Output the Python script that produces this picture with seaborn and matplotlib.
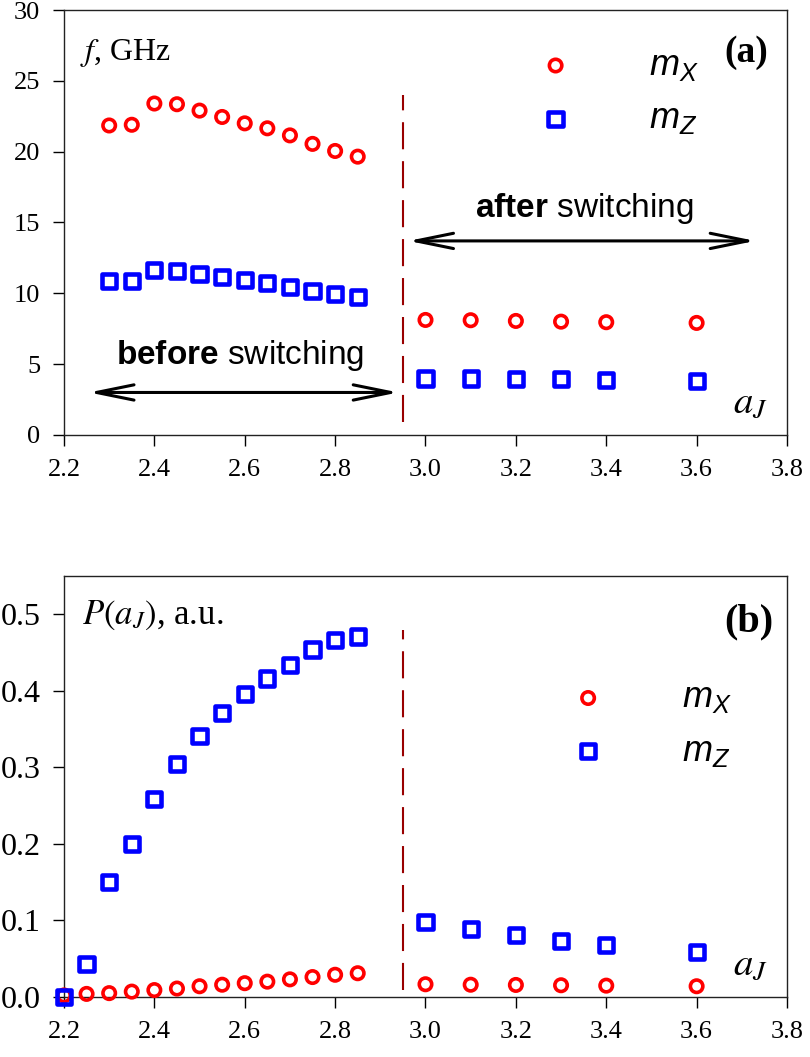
import numpy as np
import pandas as pd
import matplotlib
matplotlib.use('Agg')
import matplotlib.pyplot as plt
import seaborn as sns

sns.set_theme(style='ticks')
plt.rcParams['font.family'] = ['Liberation Serif', 'DejaVu Serif']
plt.rcParams['text.color'] = 'black'
plt.rcParams['xtick.color'] = 'black'
plt.rcParams['ytick.color'] = 'black'
plt.rcParams['mathtext.fontset'] = 'custom'
plt.rcParams['mathtext.rm'] = 'Liberation Sans'
plt.rcParams['mathtext.it'] = 'Liberation Sans:italic'
plt.rcParams['mathtext.bf'] = 'Liberation Sans:bold'

# --- data ---
# (a) frequencies, GHz
aj_f_before = [2.30, 2.35, 2.40, 2.45, 2.50, 2.55, 2.60, 2.65, 2.70, 2.75, 2.80, 2.85]
fx_before = [21.85, 21.9, 23.4, 23.35, 22.9, 22.45, 22.0, 21.65, 21.15, 20.55, 20.05, 19.65]
fz_before = [10.88, 10.88, 11.65, 11.58, 11.35, 11.14, 10.95, 10.73, 10.47, 10.17, 9.93, 9.75]
aj_after = [3.0, 3.1, 3.2, 3.3, 3.4, 3.6]
fx_after = [8.12, 8.10, 8.05, 8.00, 7.96, 7.91]
fz_after = [3.98, 3.98, 3.95, 3.93, 3.90, 3.83]

# (b) power, a.u.
aj_p_before = [2.20, 2.25, 2.30, 2.35, 2.40, 2.45, 2.50, 2.55, 2.60, 2.65, 2.70, 2.75, 2.80, 2.85]
px_before = [0.002, 0.004, 0.005, 0.007, 0.009, 0.011, 0.014, 0.016, 0.018, 0.020, 0.023, 0.026, 0.029, 0.031]
pz_before = [0.0, 0.043, 0.150, 0.200, 0.259, 0.304, 0.341, 0.371, 0.396, 0.416, 0.434, 0.454, 0.466, 0.471]
px_after = [0.0166, 0.0160, 0.0157, 0.0153, 0.0148, 0.0140]
pz_after = [0.098, 0.089, 0.081, 0.0735, 0.068, 0.059]

switch_aj = 2.95
x_ticks = [2.2, 2.4, 2.6, 2.8, 3.0, 3.2, 3.4, 3.6, 3.8]

df_f = pd.DataFrame({
    'aj': aj_f_before + aj_after + aj_f_before + aj_after,
    'val': fx_before + fx_after + fz_before + fz_after,
    'mode': ['mX'] * 18 + ['mZ'] * 18,
})
df_p = pd.DataFrame({
    'aj': aj_p_before + aj_after + aj_p_before + aj_after,
    'val': px_before + px_after + pz_before + pz_after,
    'mode': ['mX'] * 20 + ['mZ'] * 20,
})

styles = {
    'mX': dict(marker='o', s=80, edgecolor='#ff0000', linewidth=2.6, label=r'$m_X$'),
    'mZ': dict(marker='s', s=105, edgecolor='#0000ff', linewidth=3.3, label=r'$m_Z$'),
}

fig = plt.figure(figsize=(8.1, 10.57), dpi=100)
ax1 = fig.add_axes([0.079, 0.5885, 0.8926, 0.402])
ax2 = fig.add_axes([0.079, 0.0568, 0.8926, 0.3983])


def draw_panel(ax, df, ylim, yticks, yfmt, ytick_size, vline, leg_anchor):
    for mode in ['mX', 'mZ']:
        sub = df[df['mode'] == mode]
        sns.scatterplot(data=sub, x='aj', y='val', facecolors='none',
                        clip_on=False, zorder=3, ax=ax, **styles[mode])
    ax.set(xlabel='', ylabel='')
    ax.set_xlim(2.2, 3.8)
    ax.set_ylim(*ylim)
    ax.set_xticks(x_ticks)
    ax.set_xticklabels([f'{t:.1f}' for t in x_ticks])
    ax.set_yticks(yticks)
    ax.set_yticklabels([yfmt.format(t) for t in yticks])
    ax.tick_params(axis='x', labelsize=19, length=8, width=1, pad=9, color='black')
    ax.tick_params(axis='y', labelsize=ytick_size, length=8, width=1, pad=9, color='black')
    for sp in ax.spines.values():
        sp.set_visible(True)
        sp.set_linewidth(1.0)
        sp.set_color('#222222')
    ax.vlines(switch_aj, vline[0], vline[1], colors='#990000', linewidth=1.5,
              linestyles=(0, (13, 5.7)), zorder=2)
    leg = ax.legend(loc='center left', bbox_to_anchor=leg_anchor, frameon=False,
                    fontsize=26, handletextpad=1.6, labelspacing=0.55,
                    borderpad=0, borderaxespad=0, scatterpoints=1)
    for t in leg.get_texts():
        t.set_math_fontfamily('custom')


draw_panel(ax1, df_f, (0, 30), [0, 5, 10, 15, 20, 25, 30], '{:d}', 19,
           (0.9, 24.0), (0.63, 0.805))
draw_panel(ax2, df_p, (0, 0.55), [0.0, 0.1, 0.2, 0.3, 0.4, 0.5], '{:.1f}', 23,
           (0.009, 0.48), (0.675, 0.645))

# panel annotations
ax1.text(0.022, 0.90, r'$f$, GHz', transform=ax1.transAxes, fontsize=23,
         ha='left', va='center', math_fontfamily='stix')
ax1.text(0.974, 0.90, '(a)', transform=ax1.transAxes, fontsize=27,
         fontweight='bold', ha='right', va='center')
ax1.text(0.973, 0.075, r'$a_J$', transform=ax1.transAxes, fontsize=28,
         ha='right', va='center', math_fontfamily='stix')

ax2.text(0.025, 0.907, r'$P(a_J)$, a.u.', transform=ax2.transAxes, fontsize=25,
         ha='left', va='center', math_fontfamily='stix')
ax2.text(0.981, 0.891, '(b)', transform=ax2.transAxes, fontsize=29,
         fontweight='bold', ha='right', va='center')
ax2.text(0.973, 0.075, r'$a_J$', transform=ax2.transAxes, fontsize=28,
         ha='right', va='center', math_fontfamily='stix')

# before / after switching arrows
arrow_kw = dict(arrowstyle='<->,head_length=2.7,head_width=0.55', lw=2.2,
                color='black', shrinkA=0, shrinkB=0, mutation_scale=10)
ax1.annotate('', xy=(2.255, 3.0), xytext=(2.94, 3.0), arrowprops=arrow_kw)
ax1.annotate('', xy=(2.962, 13.7), xytext=(3.73, 13.7), arrowprops=arrow_kw)
ax1.text(2.59, 5.6, r'$\mathbf{before}$ switching', fontsize=24, ha='center',
         va='center', family='Liberation Sans', math_fontfamily='custom')
ax1.text(3.352, 16.0, r'$\mathbf{after}$ switching', fontsize=24, ha='center',
         va='center', family='Liberation Sans', math_fontfamily='custom')

fig.savefig('out.png', dpi=100, facecolor='white')
